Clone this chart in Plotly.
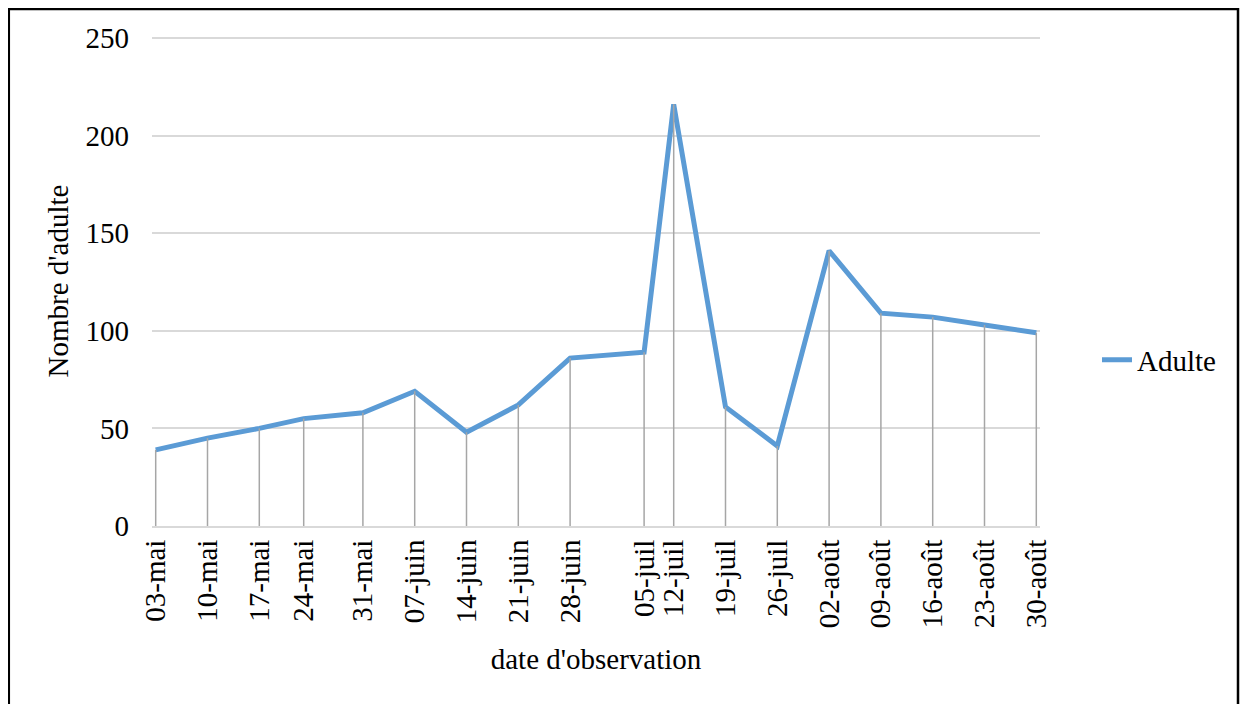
import plotly.graph_objects as go

# Data
dates = ["2021-05-03", "2021-05-10", "2021-05-17", "2021-05-23", "2021-05-31",
         "2021-06-07", "2021-06-14", "2021-06-21", "2021-06-28", "2021-07-08",
         "2021-07-12", "2021-07-19", "2021-07-26", "2021-08-02", "2021-08-09",
         "2021-08-16", "2021-08-23", "2021-08-30"]
labels = ["03-mai", "10-mai", "17-mai", "24-mai", "31-mai", "07-juin", "14-juin",
          "21-juin", "28-juin", "05-juil", "12-juil", "19-juil", "26-juil",
          "02-août", "09-août", "16-août", "23-août", "30-août"]
adultes = [39, 45, 50, 55, 58, 69, 48, 62, 86, 89, 216, 61, 41, 141, 109, 107, 103, 99]
y_ticks = [0, 50, 100, 150, 200, 250]

FONT = "Liberation Serif, Times New Roman, serif"
FS = 29

fig = go.Figure()
fig.add_trace(go.Scatter(
    x=dates, y=adultes, mode="lines", name="Adulte",
    line=dict(color="#5b9bd5", width=5),
))

# drop lines from each point to the axis
dx, dy = [], []
for d, v in zip(dates, adultes):
    dx += [d, d, None]
    dy += [0, v, None]
fig.add_trace(go.Scatter(
    x=dx, y=dy, mode="lines", showlegend=False, hoverinfo="skip",
    line=dict(color="#a6a6a6", width=1.5),
))

# page has an 8px body margin; figure coords = page coords - 8
PL, PR, PT, PB = 144, 1032, 28, 518
W, H = 1240, 696
pw, ph = PR - PL, PB - PT

fig.update_layout(
    width=W, height=H,
    margin=dict(l=PL, r=W - PR, t=PT, b=H - PB, pad=0),
    paper_bgcolor="white", plot_bgcolor="white",
    font=dict(family=FONT, size=FS, color="black"),
    legend=dict(x=(1089 - PL) / pw, y=(PB - 352) / ph, xanchor="left", yanchor="middle",
                font=dict(size=FS), bgcolor="rgba(0,0,0,0)"),
    xaxis=dict(
        type="date",
        range=["2021-05-02 12:00", "2021-08-30 12:00"],
        tickvals=dates, ticktext=labels, tickangle=-90,
        showgrid=False, zeroline=False,
        showline=True, linecolor="#d9d9d9", linewidth=2,
        ticks="", tickfont=dict(size=FS),
        title=dict(text="date d'observation", font=dict(size=FS), standoff=22),
    ),
    yaxis=dict(
        range=[0, 251], tickvals=y_ticks,
        showgrid=True, gridcolor="#d9d9d9", gridwidth=1.5,
        zeroline=False, showline=False, ticks="",
        ticklabelstandoff=22,
        tickfont=dict(size=FS),
        title=dict(text="Nombre d'adulte", font=dict(size=FS), standoff=8),
    ),
    shapes=[dict(
        type="rect", xref="paper", yref="paper",
        x0=(0.8 - PL) / pw, x1=(1230 - PL) / pw,
        y0=(PB - 720) / ph, y1=(PB - 1) / ph,
        line=dict(color="black", width=2.5), fillcolor="rgba(0,0,0,0)",
        layer="above",
    )],
)

fig.write_html("out.html")
